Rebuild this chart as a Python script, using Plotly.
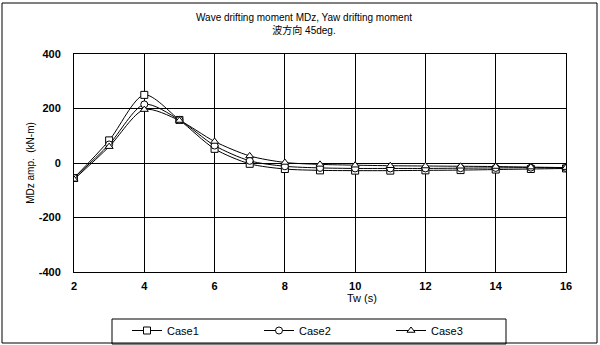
import plotly.graph_objects as go

tw = [2, 3, 4, 5, 6, 7, 8, 9, 10, 11, 12, 13, 14, 15, 16]
case1 = [-55, 83, 250, 158, 52, -3, -22, -27, -28, -28, -27, -26, -24, -22, -20]
case2 = [-55, 68, 215, 158, 64, 8, -12, -18, -20, -20, -20, -19, -18, -17, -18]
case3 = [-60, 60, 196, 156, 79, 26, 2, -5, -8, -10, -11, -12, -13, -15, -17]
series = [("Case1", case1, "square"), ("Case2", case2, "circle"), ("Case3", case3, "triangle-up")]
x_ticks = [2, 4, 6, 8, 10, 12, 14, 16]
y_ticks = [-400, -200, 0, 200, 400]
y_ticktext = ["-400", "-200", "0", "200", "400"]

FONT = "Liberation Sans, Arial, Noto Sans CJK JP, sans-serif"

fig = go.Figure()
for name, vals, sym in series:
    fig.add_trace(go.Scatter(
        x=tw, y=vals, name=name, mode="lines+markers",
        line=dict(color="black", width=1, shape="spline", smoothing=0.8),
        marker=dict(symbol=sym, size=7, color="white", line=dict(color="black", width=1)),
    ))

L, R, T, B = 74, 34, 54, 73
fig.update_layout(
    width=600, height=345,
    margin=dict(l=L, r=R, t=T, b=B, autoexpand=False),
    paper_bgcolor="white", plot_bgcolor="white",
    font=dict(family=FONT, color="black", size=11),
    title=dict(text="Wave drifting moment MDz, Yaw drifting moment<br>波方向 45deg.",
               x=304 / 600, xanchor="center", xref="container",
               y=1 - 21 / 345, yanchor="top", yref="container",
               font=dict(size=10, family=FONT)),
    showlegend=True,
    legend=dict(orientation="h", x=127 / 600, xanchor="left", xref="container",
                y=1 - 316 / 345, yanchor="top", yref="container",
                bgcolor="rgba(0,0,0,0)", borderwidth=0,
                entrywidth=87, entrywidthmode="pixels",
                font=dict(size=11, family=FONT), itemwidth=30),
    xaxis=dict(range=[2, 16], tickvals=x_ticks,
               showgrid=True, gridcolor="black", gridwidth=1,
               showline=True, linecolor="black", linewidth=1, mirror=True,
               zeroline=False, ticks="", tickfont=dict(size=11, family=FONT, weight="bold"),
               ticklabelstandoff=4),
    yaxis=dict(range=[-400, 400], tickvals=y_ticks, ticktext=y_ticktext,
               showgrid=True, gridcolor="black", gridwidth=1,
               showline=True, linecolor="black", linewidth=1, mirror=True,
               zeroline=True, zerolinecolor="black", zerolinewidth=1,
               ticks="", tickfont=dict(size=11, family=FONT, weight="bold"), ticklabelstandoff=10,
               title=dict(text="MDz amp.  (kN-m)", standoff=2, font=dict(size=10, family=FONT))),
)

pw, ph = 600 - L - R, 345 - T - B
def px(x):
    return (x - L) / pw
def py(y):
    return (345 - B - y) / ph

# x-axis title, placed as in the reference (right of centre, just under the labels)
fig.add_annotation(text="Tw (s)", xref="paper", yref="paper", x=px(362), y=py(298),
                   showarrow=False, xanchor="center", yanchor="middle",
                   font=dict(size=11, family=FONT))
# outer frame
fig.add_shape(type="rect", xref="paper", yref="paper",
              x0=px(2), x1=px(597), y0=py(343), y1=py(3),
              line=dict(color="black", width=1))
# legend box
fig.add_shape(type="rect", xref="paper", yref="paper",
              x0=px(112), x1=px(506), y0=py(344), y1=py(319),
              line=dict(color="black", width=1))

fig.write_html("out.html")
